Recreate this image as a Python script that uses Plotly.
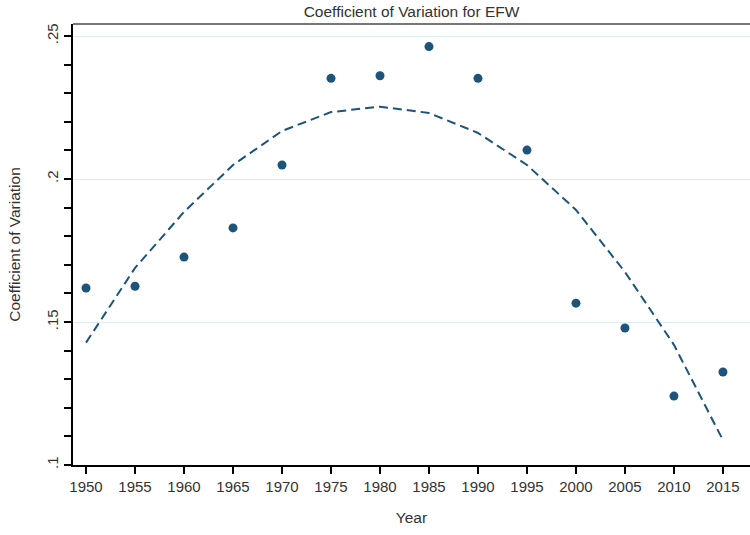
import plotly.graph_objects as go

years = [1950, 1955, 1960, 1965, 1970, 1975, 1980, 1985, 1990, 1995, 2000, 2005, 2010, 2015]
cv_observed = [0.1619, 0.1625, 0.1727, 0.1829, 0.2049, 0.2352, 0.2361, 0.2463, 0.2352, 0.2101, 0.1566, 0.1479, 0.1241, 0.1325]
cv_fitted = [0.1428, 0.1689, 0.1885, 0.2049, 0.2168, 0.2234, 0.2253, 0.2231, 0.2161, 0.2049, 0.1892, 0.1675, 0.1420, 0.1087]
y_tickvals = [0.10, 0.15, 0.20, 0.25]
y_ticktext = [".1", ".15", ".2", ".25"]

navy = "#1d5479"
txt = "#333333"
font_family = "Liberation Sans, Arial, sans-serif"

fig = go.Figure()
fig.add_trace(go.Scatter(
    x=years, y=cv_fitted, mode="lines",
    line=dict(color=navy, width=2, dash="9px,5px"),
    showlegend=False, hoverinfo="skip"))
fig.add_trace(go.Scatter(
    x=years, y=cv_observed, mode="markers",
    marker=dict(color=navy, size=9),
    showlegend=False))

fig.update_layout(
    width=750, height=535,
    margin=dict(l=73, r=0, t=24, b=70),
    paper_bgcolor="white", plot_bgcolor="white",
    font=dict(family=font_family, size=15, color=txt),
    title=dict(text="Coefficient of Variation for EFW", x=0.5, xref="paper",
               xanchor="center", y=1 - 12/535, yanchor="middle", yref="container",
               font=dict(size=15.5, color=txt)),
    xaxis=dict(
        range=[1948.67, 2017.76], tickvals=years, ticktext=[str(y) for y in years],
        showgrid=False, zeroline=False,
        showline=True, linecolor="#000000", linewidth=2,
        ticks="outside", ticklen=7, tickwidth=2, tickcolor="#000000",
        tickfont=dict(size=15, color=txt),
        title=dict(text="Year", font=dict(size=15.5, color=txt), standoff=18),
    ),
    yaxis=dict(
        range=[0.1, 0.2542], tickvals=y_tickvals, ticktext=y_ticktext,
        tickangle=-90,
        showgrid=True, gridcolor="#ddeeee", gridwidth=1, zeroline=False,
        showline=True, linecolor="#000000", linewidth=2,
        ticks="outside", ticklen=7, tickwidth=2, tickcolor="#000000",
        tickfont=dict(size=15, color=txt),
        minor=dict(dtick=0.01, tick0=0.1, ticks="outside", ticklen=7, tickwidth=2,
                   tickcolor="#000000", showgrid=False),
        title=dict(text="Coefficient of Variation", font=dict(size=15.5, color=txt), standoff=20),
    ),
    shapes=[dict(type="line", xref="paper", yref="paper", x0=0, x1=1, y0=1, y1=1,
                 line=dict(color="#777777", width=2))],
)

fig.write_html("out.html")
